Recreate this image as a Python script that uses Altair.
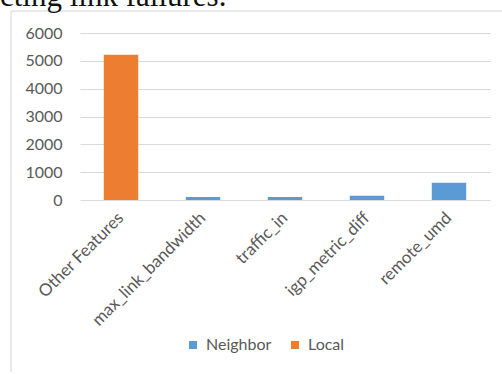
import altair as alt
import pandas as pd

# Feature importance counts split by where the feature comes from
features = ["Other Features", "max_link_bandwidth", "traffic_in", "igp_metric_diff", "remote_umd"]
neighbor = [0, 110, 110, 150, 620]
local = [5220, 0, 0, 0, 0]
series = ["Neighbor", "Local"]
series_colors = ["#5B9BD5", "#ED7D31"]
y_ticks = [0, 1000, 2000, 3000, 4000, 5000, 6000]

rows = []
for f, n, l in zip(features, neighbor, local):
    rows.append({"feature": f, "series": "Neighbor", "count": n})
    rows.append({"feature": f, "series": "Local", "count": l})
df = pd.DataFrame(rows)

TEXT = "#595959"
GRID = "#d9d9d9"
FONT = "Lato"

bars = alt.Chart(df).mark_bar().encode(
    x=alt.X("feature:N", sort=features, title=None,
            scale=alt.Scale(paddingInner=0.58, paddingOuter=0.29),
            axis=alt.Axis(labelAngle=-45, labelAlign="right", labelBaseline="middle",
                          labelPadding=15, ticks=False, domain=False,
                          labelFontSize=17, labelColor=TEXT, labelFont=FONT)),
    y=alt.Y("count:Q", stack="zero", title=None,
            scale=alt.Scale(domain=[0, 6000], nice=False),
            axis=alt.Axis(values=y_ticks, format="d", ticks=False, domain=False,
                          labelPadding=18, gridColor=GRID, gridWidth=1.2,
                          labelFontSize=16, labelColor=TEXT, labelFont=FONT)),
    color=alt.Color("series:N",
                    scale=alt.Scale(domain=series, range=series_colors),
                    sort=series,
                    legend=alt.Legend(title=None, orient="none", direction="horizontal",
                                      legendX=105, legendY=304,
                                      symbolType="square", symbolSize=64,
                                      symbolStrokeWidth=0, labelOffset=5,
                                      columnPadding=15,
                                      labelFontSize=16, labelColor=TEXT, labelFont=FONT)),
    order=alt.Order("series:N", sort="descending"),
)

# Frame lines around the chart box
frame = pd.DataFrame({"k": [0]})
left_edge = alt.Chart(frame).mark_rule(color="#e3e3e3", strokeWidth=1.5).encode(
    x=alt.value(-69), y=alt.value(-22), y2=alt.value(339))
top_edge = alt.Chart(frame).mark_rule(color="#e3e3e3", strokeWidth=1.5).encode(
    x=alt.value(-69), x2=alt.value(422), y=alt.value(-22))

# Tail of the preceding sentence above the chart
caption = alt.Chart(frame).mark_text(
    text="cting link failures.", font="Liberation Serif", fontSize=31,
    align="left", baseline="alphabetic", color="#111111").encode(
    x=alt.value(-80), y=alt.value(-27))

chart = alt.layer(left_edge, top_edge, bars, caption).properties(
    width=410, height=167,
    padding={"left": 80, "top": 33, "right": 12, "bottom": 174},
    autosize=alt.AutoSizeParams(type="none"),
    background="white",
).configure_view(stroke=None)

chart.save("out.html", embed_options={"renderer": "svg", "actions": False})
